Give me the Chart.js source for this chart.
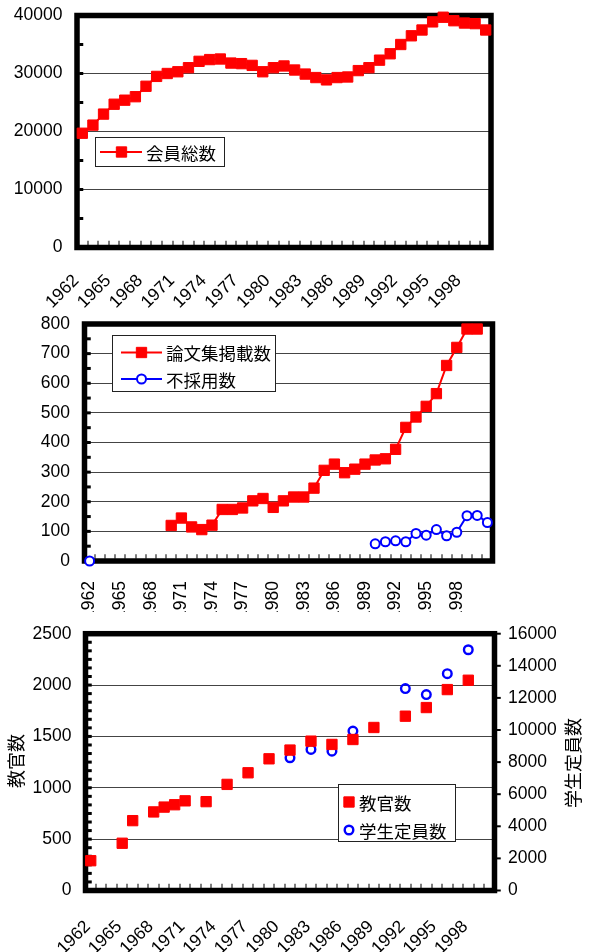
<!DOCTYPE html>
<html><head><meta charset="utf-8">
<script src="https://cdn.jsdelivr.net/npm/chart.js@4.4.1/dist/chart.umd.min.js"></script>
<style>
html,body{margin:0;padding:0;background:#fff;}
body{width:594px;height:952px;position:relative;overflow:hidden;}
canvas{position:absolute;left:0;}
</style></head><body>
<canvas id="c1" width="594" height="312" style="top:0px"></canvas>
<canvas id="c2" width="594" height="300" style="top:312px"></canvas>
<canvas id="c3" width="594" height="340" style="top:612px"></canvas>
<script>
// ---------- data ----------
const tickYears = ['1962','1965','1968','1971','1974','1977','1980','1983','1986','1989','1992','1995','1998'];

const memberYears = ['1962','1963','1964','1965','1966','1967','1968','1969','1970','1971','1972','1973','1974','1975','1976','1977','1978','1979','1980','1981','1982','1983','1984','1985','1986','1987','1988','1989','1990','1991','1992','1993','1994','1995','1996','1997','1998','1999','2000'];
const memberLabel = '会員総数';
const memberTotals = [19700,21100,23000,24700,25400,26000,27800,29500,30000,30300,31000,32100,32400,32500,31800,31700,31400,30300,31000,31300,30600,29900,29300,28900,29300,29400,30500,31000,32300,33400,35000,36500,37500,38900,39700,39100,38700,38600,37500];

const paperYears = ['1962','1963','1964','1965','1966','1967','1968','1969','1970','1971','1972','1973','1974','1975','1976','1977','1978','1979','1980','1981','1982','1983','1984','1985','1986','1987','1988','1989','1990','1991','1992','1993','1994','1995','1996','1997','1998','1999','2000','2001'];
const paperLabel = '論文集掲載数';
const paperCounts = [null,null,null,null,null,null,null,null,120,145,115,106,121,174,174,179,203,211,181,203,216,216,246,306,327,298,310,327,341,345,377,451,486,522,565,660,721,783,783,null];
const rejectLabel = '不採用数';
const rejectCounts = [0,null,null,null,null,null,null,null,null,null,null,null,null,null,null,null,null,null,null,null,null,null,null,null,null,null,null,null,58,65,68,65,93,87,106,85,97,153,154,130];

const staffYears = memberYears;
const teacherLabel = '教官数';
const teacherCounts = [290,null,null,460,680,null,765,812,835,873,null,865,null,1033,null,1146,null,1282,null,1367,null,1454,null,1422,null,1470,null,1587,null,null,1697,null,1781,null,1956,null,2047,null,null];
const studentLabel = '学生定員数';
const studentQuota = [null,null,null,null,null,null,null,null,null,null,null,null,null,null,null,null,null,null,null,8270,null,8790,null,8680,null,9930,null,null,null,null,12580,null,12210,null,13510,null,15000,null,null];

// ---------- style ----------
const RED = '#ff0000', BLUE = '#0000ff';
const latin = '"Liberation Sans", Arial, sans-serif';
const cjk = '"Noto Sans CJK JP", "Noto Sans CJK SC", sans-serif';

function yearTick(value) {
  const l = this.getLabelForValue(value);
  return tickYears.includes(l) ? l : '';
}

const framePlugin = {
  id: 'frame',
  beforeDatasetsDraw(chart, args, o) {
    const ctx = chart.ctx, a = chart.chartArea, fw = o.fw || 5.5;
    ctx.save();
    ctx.fillStyle = '#000';
    const y = chart.scales.y;
    const n = Math.round((y.max - y.min) / o.leftMinor);
    for (let i = 0; i <= n; i++) {
      const py = y.getPixelForValue(y.min + i * o.leftMinor);
      ctx.fillRect(a.left + fw / 2 - 0.5, py - 1.5, 4, 3);
    }
    const x = chart.scales.x, cnt = chart.data.labels.length;
    for (let i = 0; i <= cnt; i++) {
      const px = x.getPixelForValue(i - 0.5);
      ctx.fillRect(Math.round(px) - 0.5, a.bottom - fw / 2 - 4, 1, 4.5);
    }
    if (chart.scales.y2) {
      const y2 = chart.scales.y2;
      for (let v = y2.min; v <= y2.max; v += o.rightStep) {
        const py = y2.getPixelForValue(v);
        ctx.fillRect(a.right + fw / 2 - 0.5, py - 1, 4, 2);
      }
    }
    ctx.strokeStyle = '#000';
    ctx.lineWidth = fw;
    ctx.strokeRect(a.left, a.top, a.right - a.left, a.bottom - a.top);
    ctx.restore();
  }
};

function drawMarker(ctx, ds, x, y) {
  ctx.save();
  ctx.fillStyle = ds.pointBackgroundColor;
  ctx.strokeStyle = ds.pointBorderColor;
  ctx.lineWidth = ds.pointBorderWidth;
  if (ds.pointStyle === 'rect') {
    const s = ds.pointRadius * Math.SQRT1_2;
    ctx.beginPath(); ctx.rect(x - s, y - s, 2 * s, 2 * s);
    ctx.fill(); if (ds.pointBorderWidth > 0) ctx.stroke();
  } else {
    ctx.beginPath(); ctx.arc(x, y, ds.pointRadius, 0, Math.PI * 2);
    ctx.fill(); if (ds.pointBorderWidth > 0) ctx.stroke();
  }
  ctx.restore();
}

const boxLegend = {
  id: 'boxLegend',
  afterDatasetsDraw(chart, args, o) {
    if (!o || !o.box) return;
    const ctx = chart.ctx;
    ctx.save();
    const [bx, by, bw, bh] = o.box;
    ctx.fillStyle = '#fff';
    ctx.fillRect(bx, by, bw, bh);
    ctx.strokeStyle = '#222'; ctx.lineWidth = 1;
    ctx.strokeRect(bx + 0.5, by + 0.5, bw, bh);
    chart.data.datasets.forEach((ds, i) => {
      const cy = o.rows[i];
      if (ds.showLine !== false && o.line) {
        ctx.strokeStyle = ds.borderColor; ctx.lineWidth = ds.borderWidth;
        ctx.beginPath(); ctx.moveTo(o.line[0], cy); ctx.lineTo(o.line[1], cy); ctx.stroke();
      }
      drawMarker(ctx, ds, o.markerX, cy);
      ctx.fillStyle = '#000';
      ctx.font = '17.5px ' + cjk;
      ctx.textBaseline = 'middle';
      ctx.textAlign = 'left';
      ctx.fillText(ds.label, o.textX, cy + 1);
    });
    ctx.restore();
  }
};

const axisTitles = {
  id: 'axisTitles',
  afterDraw(chart, args, o) {
    if (!o || !o.items) return;
    const ctx = chart.ctx;
    ctx.save();
    ctx.fillStyle = '#000';
    ctx.font = '18px ' + cjk;
    ctx.textAlign = 'center'; ctx.textBaseline = 'middle';
    o.items.forEach(it => {
      ctx.save(); ctx.translate(it.x, it.y); ctx.rotate(-Math.PI / 2);
      ctx.fillText(it.text, 0, 0); ctx.restore();
    });
    ctx.restore();
  }
};

const numTick = v => String(v);
const common = { responsive: false, animation: false, events: [] };
const yGrid = (gap) => ({ color: '#444', lineWidth: 1, drawTicks: true, tickLength: gap, tickColor: 'rgba(0,0,0,0)' });
const yTicks = (step) => ({ stepSize: step, padding: 0, font: { size: 17.5, family: latin }, color: '#000', callback: numTick });

// ---------- chart 1 ----------
new Chart(document.getElementById('c1'), {
  type: 'line',
  data: { labels: memberYears, datasets: [{
    label: memberLabel, data: memberTotals, borderColor: RED, backgroundColor: RED, borderWidth: 2,
    pointStyle: 'rect', pointRadius: 7.3, pointBorderWidth: 1, pointBackgroundColor: RED, pointBorderColor: RED,
    tension: 0, clip: false }] },
  options: Object.assign({}, common, {
    layout: { padding: { left: 0, right: 103, top: 15.5, bottom: 0 } },
    plugins: { legend: { display: false }, tooltip: { enabled: false },
      frame: { leftMinor: 5000 },
      boxLegend: { box: [95, 137, 129, 29], rows: [152], line: [100, 142], markerX: 121.5, textX: 146 } },
    scales: {
      x: { offset: true, grid: { display: false }, border: { display: false },
        ticks: { autoSkip: false, minRotation: 45, maxRotation: 45, padding: 15, labelOffset: -6,
          font: { size: 17.5, family: latin }, color: '#000', callback: yearTick },
        afterFit: s => { s.height = 312 - 247.5; } },
      y: { min: 0, max: 40000, border: { display: false }, ticks: yTicks(10000), grid: yGrid(14.5),
        afterFit: s => { s.width = 77; } }
    }
  }),
  plugins: [framePlugin, boxLegend]
});

// ---------- chart 2 ----------
new Chart(document.getElementById('c2'), {
  type: 'line',
  data: { labels: paperYears, datasets: [{
    label: paperLabel, data: paperCounts, borderColor: RED, backgroundColor: RED, borderWidth: 2,
    pointStyle: 'rect', pointRadius: 7.3, pointBorderWidth: 1, pointBackgroundColor: RED, pointBorderColor: RED,
    tension: 0, spanGaps: false, clip: false
  }, {
    label: rejectLabel, data: rejectCounts, borderColor: BLUE, backgroundColor: '#fff', borderWidth: 2,
    pointStyle: 'circle', pointRadius: 4.5, pointBorderWidth: 2, pointBackgroundColor: '#fff', pointBorderColor: BLUE,
    tension: 0, spanGaps: false, clip: false }] },
  options: Object.assign({}, common, {
    layout: { padding: { left: 0, right: 101.5, top: 12, bottom: 0 } },
    plugins: { legend: { display: false }, tooltip: { enabled: false },
      frame: { leftMinor: 50 },
      boxLegend: { box: [112, 23, 163, 56], rows: [40.5, 67], line: [121, 162], markerX: 141.5, textX: 166 } },
    scales: {
      x: { offset: true, grid: { display: false }, border: { display: false },
        ticks: { autoSkip: false, minRotation: 90, maxRotation: 90, padding: 12,
          font: { size: 17.5, family: latin }, color: '#000', callback: yearTick },
        afterFit: s => { s.height = 300 - 249; } },
      y: { min: 0, max: 800, border: { display: false }, ticks: yTicks(100), grid: yGrid(14.5),
        afterFit: s => { s.width = 84.5; } }
    }
  }),
  plugins: [framePlugin, boxLegend]
});

// ---------- chart 3 ----------
new Chart(document.getElementById('c3'), {
  type: 'line',
  data: { labels: staffYears, datasets: [{
    label: teacherLabel, data: teacherCounts, showLine: false, borderColor: RED, backgroundColor: RED, borderWidth: 0,
    pointStyle: 'rect', pointRadius: 7.3, pointBorderWidth: 1, pointBackgroundColor: RED, pointBorderColor: RED,
    yAxisID: 'y', clip: false
  }, {
    label: studentLabel, data: studentQuota, showLine: false, borderColor: BLUE, backgroundColor: '#fff', borderWidth: 0,
    pointStyle: 'circle', pointRadius: 4.3, pointBorderWidth: 2.4, pointBackgroundColor: 'rgba(255,255,255,0)', pointBorderColor: BLUE,
    yAxisID: 'y2', clip: false }] },
  options: Object.assign({}, common, {
    layout: { padding: { left: 0, right: 0, top: 21.7, bottom: 0 } },
    plugins: { legend: { display: false }, tooltip: { enabled: false },
      frame: { leftMinor: 2500 / 30, rightStep: 2000 },
      boxLegend: { box: [338, 172, 117, 57], rows: [190, 218], markerX: 349, textX: 359 },
      axisTitles: { items: [{ text: teacherLabel, x: 16, y: 149 }, { text: studentLabel, x: 573, y: 151 }] } },
    scales: {
      x: { offset: true, grid: { display: false }, border: { display: false },
        ticks: { autoSkip: false, minRotation: 45, maxRotation: 45, padding: 18, labelOffset: -3,
          font: { size: 17.5, family: latin }, color: '#000', callback: yearTick },
        afterFit: s => { s.height = 340 - 278.5; } },
      y: { min: 0, max: 2500, border: { display: false }, ticks: yTicks(500), grid: yGrid(14),
        afterFit: s => { s.width = 85.5; } },
      y2: { position: 'right', min: 0, max: 16000, border: { display: false }, ticks: yTicks(2000),
        grid: { display: false, drawTicks: true, tickLength: 13.5, tickColor: 'rgba(0,0,0,0)' },
        afterFit: s => { s.width = 99.5; } }
    }
  }),
  plugins: [framePlugin, boxLegend, axisTitles]
});
</script>
</body></html>
